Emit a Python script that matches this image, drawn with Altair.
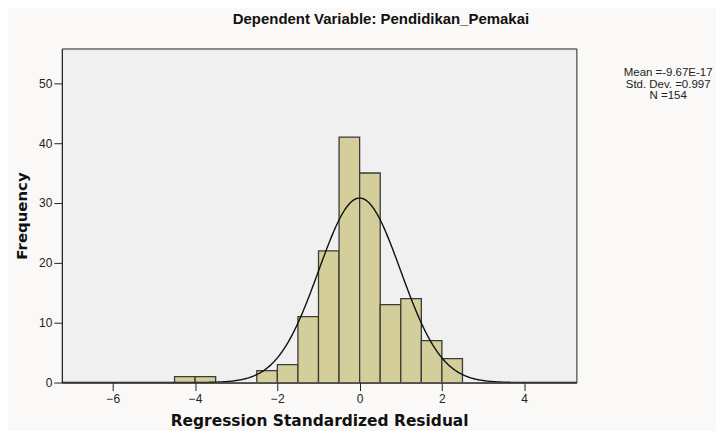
import altair as alt
import pandas as pd

# Histogram bins (bin width 0.5)
bin_start = [-4.5, -4.0, -2.5, -2.0, -1.5, -1.0, -0.5, 0.0, 0.5, 1.0, 1.5, 2.0]
bin_end = [-4.0, -3.5, -2.0, -1.5, -1.0, -0.5, 0.0, 0.5, 1.0, 1.5, 2.0, 2.5]
counts = [1, 1, 2, 3, 11, 22, 41, 35, 13, 14, 7, 4]

# Summary statistics shown in the legend
mean_val = -9.67e-17
sd_val = 0.997
n_val = 154
bin_width = 0.5

x_ticks = [-6, -4, -2, 0, 2, 4]
y_ticks = [0, 10, 20, 30, 40, 50]
x_domain = [-7.24, 5.27]
y_domain = [0, 55.8]

stats_lines = ["Mean =-9.67E-17", "Std. Dev. =0.997", "N =154"]

bars_df = pd.DataFrame({"start": bin_start, "end": bin_end, "count": counts})

FONT = "Liberation Sans"
TFONT = "DejaVu Sans"

x_scale = alt.Scale(domain=x_domain, nice=False, zero=False)
y_scale = alt.Scale(domain=y_domain, nice=False)

x_axis = alt.Axis(values=x_ticks, title="Regression Standardized Residual", grid=False,
                  tickSize=8, labelPadding=3, labelFontSize=12, labelFont=FONT,
                  labelColor="#222222", titleFont=TFONT, titleFontSize=15.5,
                  titleFontWeight="bold", titleColor="#111111", titlePadding=9,
                  domainColor="#222222", tickColor="#222222")
y_axis = alt.Axis(values=y_ticks, title="Frequency", grid=False,
                  tickSize=8, labelPadding=2, labelFontSize=12, labelFont=FONT,
                  labelColor="#222222", titleFont=TFONT, titleFontSize=15,
                  titleFontWeight="bold", titleColor="#111111", titlePadding=9,
                  domainColor="#222222", tickColor="#222222")

bars = alt.Chart(bars_df).mark_bar(
    fill="#D4CF9A", stroke="#3A3A3A", strokeWidth=1.3, clip=True
).encode(
    x=alt.X("start:Q", scale=x_scale, axis=x_axis),
    x2="end:Q",
    y=alt.Y("count:Q", scale=y_scale, axis=y_axis),
    y2=alt.datum(0),
)

curve = alt.Chart(alt.sequence(start=x_domain[0], stop=x_domain[1], step=0.02, as_="x")).transform_calculate(
    y=f"{n_val}*{bin_width}*exp(-0.5*pow((datum.x-({mean_val}))/{sd_val},2))/({sd_val}*sqrt(2*PI))"
).mark_line(color="#111111", strokeWidth=1.4, clip=True).encode(
    x=alt.X("x:Q", scale=x_scale),
    y=alt.Y("y:Q", scale=y_scale),
)

stats = alt.Chart(pd.DataFrame({"t": [stats_lines]})).mark_text(
    font=FONT, fontSize=11.5, lineHeight=11.5, align="center", baseline="middle", color="#222222"
).encode(
    text="t:N",
    x=alt.value(608),
    y=alt.value(25),
)

chart = alt.layer(bars, curve, stats).properties(
    width=516,
    height=335,
    background="#FAF9F7",
    padding={"left": 54, "top": 40, "right": 140, "bottom": 48},
    autosize=alt.AutoSizeParams(type="none"),
    title=alt.TitleParams("Dependent Variable: Pendidikan_Pemakai", font=FONT, fontSize=15,
                          fontWeight="bold", color="#111111", anchor="middle", dx=62, offset=22),
).configure_view(
    fill="#F0F0F0", stroke="#222222", strokeWidth=1
)

chart.save("out.html", embed_options={"renderer": "svg", "actions": False})
